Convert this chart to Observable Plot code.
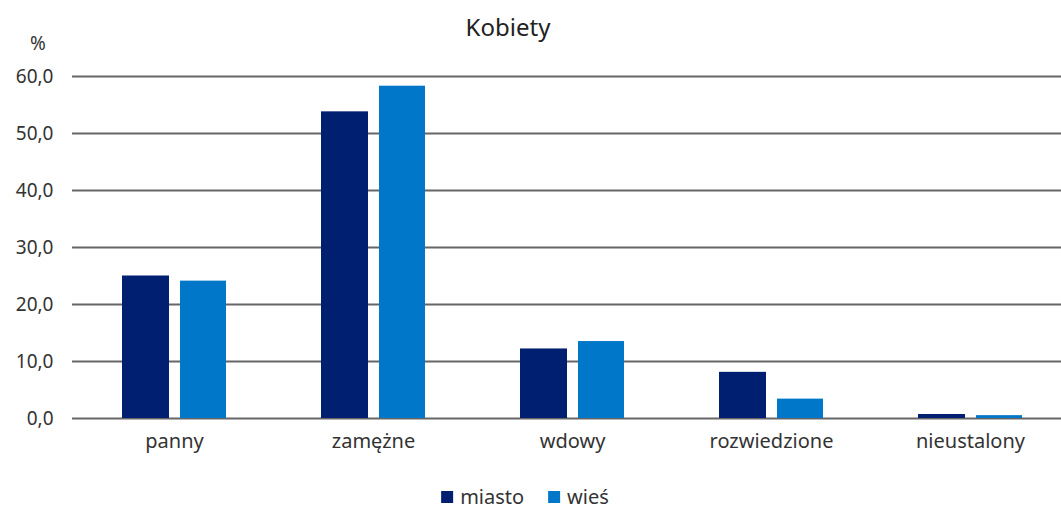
<!DOCTYPE html>
<html>
<head>
<meta charset="utf-8">
<script src="https://cdn.jsdelivr.net/npm/d3@7"></script>
<script src="https://cdn.jsdelivr.net/npm/@observablehq/plot@0.6"></script>
<style>
  html, body { margin: 0; padding: 0; background: #fff; }
  #wrap { position: relative; width: 1061px; height: 509px; font-family: "Noto Sans", sans-serif; color: #333; overflow: hidden; }
  #title { position: absolute; top: 10px; left: 508px; transform: translateX(-50%); font-size: 24px; color: #222; white-space: nowrap; }
  #unit { position: absolute; top: 30px; left: 38px; transform: translateX(-50%); font-size: 19px; color: #333; }
  #chart { position: absolute; top: 0; left: 0; }
  #legend { position: absolute; top: 483px; left: 525px; transform: translateX(-50%); display: flex; align-items: center; gap: 24px; font-size: 20px; color: #333; white-space: nowrap; }
  .item { display: flex; align-items: center; gap: 7px; }
  .sw { width: 12px; height: 12px; display: inline-block; }
</style>
</head>
<body>
<div id="wrap">
  <div id="chart"></div>
  <div id="title">Kobiety</div>
  <div id="unit">%</div>
  <div id="legend"></div>
</div>
<script>
const categories = ["panny", "zamężne", "wdowy", "rozwiedzione", "nieustalony"];
const series = ["miasto", "wieś"];
const miasto = [25.0, 53.8, 12.2, 8.1, 0.7];
const wies = [24.1, 58.3, 13.5, 3.4, 0.5];
const yTicks = [0, 10, 20, 30, 40, 50, 60];
const colors = ["#001f70", "#0077c8"];

const rowsM = categories.map((c, i) => ({category: c, series: series[0], value: miasto[i]}));
const rowsW = categories.map((c, i) => ({category: c, series: series[1], value: wies[i]}));

const fmt = d => d3.format(".1f")(d).replace(".", ",");

const plot = Plot.plot({
  width: 1061,
  height: 470,
  marginLeft: 72,
  marginRight: 0,
  marginTop: 76,
  marginBottom: 52,
  style: {fontFamily: "Noto Sans, sans-serif", fontSize: "19px", color: "#333", background: "transparent"},
  x: {domain: categories, range: [72, 1073], paddingInner: 0.475, paddingOuter: 0.24, align: 0.5, label: null},
  y: {domain: [0, 60], ticks: yTicks, label: null},
  color: {domain: series, range: colors},
  marks: [
    Plot.ruleY(yTicks, {stroke: "#666", strokeWidth: 2}),
    Plot.barY(rowsM, {x: "category", y: "value", fill: "series", insetLeft: 0, insetRight: 57}),
    Plot.barY(rowsW, {x: "category", y: "value", fill: "series", insetLeft: 58, insetRight: 0}),
    Plot.axisY({ticks: yTicks, tickFormat: fmt, tickSize: 0, tickPadding: 19, label: null, fill: "#333"}),
    Plot.axisX({tickSize: 0, tickPadding: 15, label: null, fill: "#333", fontSize: 20})
  ]
});
document.getElementById("chart").appendChild(plot);

const legend = document.getElementById("legend");
series.forEach((s, i) => {
  const it = document.createElement("div");
  it.className = "item";
  it.innerHTML = `<span class="sw" style="background:${colors[i]}"></span><span>${s}</span>`;
  legend.appendChild(it);
});
</script>
</body>
</html>
